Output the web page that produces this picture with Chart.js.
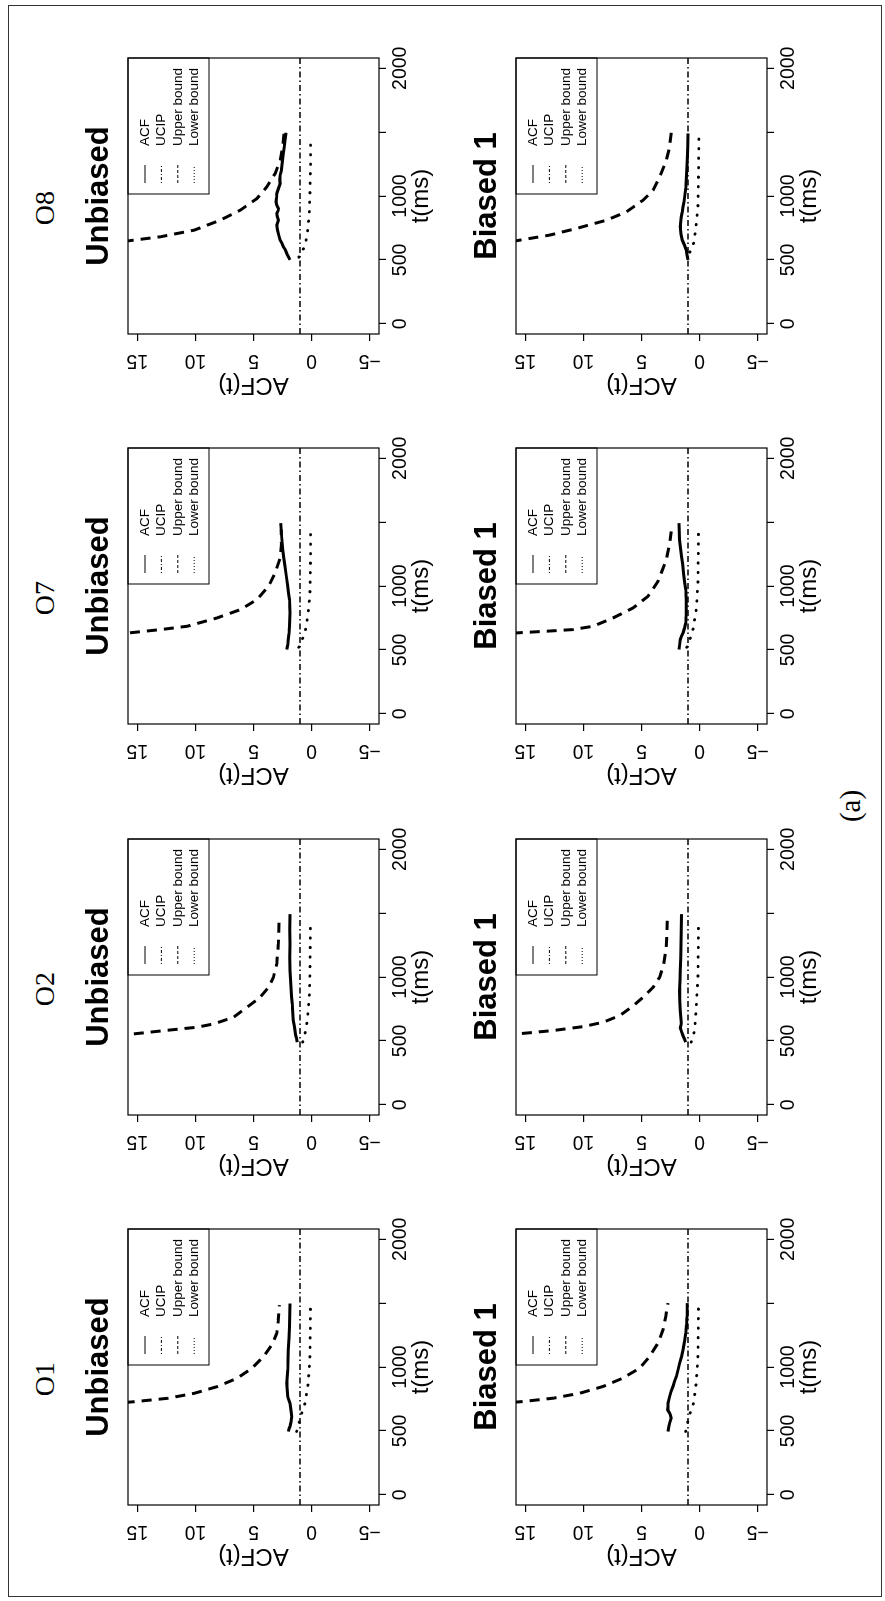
<!DOCTYPE html>
<html>
<head>
<meta charset="utf-8">
<script src="https://cdn.jsdelivr.net/npm/chart.js@4.4.1/dist/chart.umd.min.js"></script>
<style>
  html, body { margin: 0; padding: 0; background: #fff; overflow: hidden; }
  /* the figure is laid out upright (1601 x 885) and then turned a quarter to the left */
  #fig { position: absolute; left: 0; top: 0; width: 1601px; height: 885px;
         transform-origin: 0 0; transform: translate(0, 1601px) rotate(-90deg); background: #fff; }
  #frame { position: absolute; left: 4px; top: 8px; width: 1592px; height: 874px;
           box-sizing: border-box; border: 1.5px solid #333; }
  .olab { position: absolute; top: 31px; width: 100px; text-align: center; color: #000;
          font: 28px/28px "Liberation Serif", "Times New Roman", serif; }
  #cap { position: absolute; left: 745px; top: 836px; width: 100px; text-align: center; color: #000;
         font: 29px/29px "Liberation Serif", "Times New Roman", serif; }
  canvas { position: absolute; }
</style>
</head>
<body>
<div id="fig">
  <div id="frame"></div>
  <div id="cap">(a)</div>
</div>
<script>
// categories
const panels = ['O1', 'O2', 'O7', 'O8'];
const rows = ['Unbiased', 'Biased 1'];
const seriesNames = ['ACF', 'UCIP', 'Upper bound', 'Lower bound'];
const ucip = 1.0;

// axes
const xRange = [-80, 2080];
const yRange = [-5.8, 15.8];
const xTicks = [0, 500, 1000, 1500, 2000];
const xTickLabels = ['0', '500', '1000', '', '2000'];
const yTicks = [-5, 0, 5, 10, 15];
const yTickLabels = ['\u22125', '0', '5', '10', '15'];

// series values, [t (ms), ACF(t)]
// O1
const acfO1u = [[495,2.0],[515,1.95],[534,1.86],[570,1.78],[612,1.71],[660,1.78],[716,1.86],[768,2.06],[820,2.1],[872,2.14],[925,2.1],[977,2.06],[1055,2.03],[1133,2.0],[1225,1.95],[1315,1.91],[1410,1.88],[1497,1.86]];
const upO1u  = [[700,19],[729,15.2],[755,12.4],[794,10.1],[846,8.14],[911,6.43],[990,5.14],[1081,4.14],[1172,3.43],[1263,3.0],[1367,2.86],[1484,2.77]];
const loO1u  = [[495,1.29],[612,0.94],[716,0.57],[872,0.29],[1081,0.14],[1497,0.09]];
const acfO1b = [[495,2.72],[530,2.65],[561,2.58],[600,2.44],[620,2.5],[639,2.58],[665,2.75],[690,2.73],[717,2.72],[769,2.58],[810,2.45],[848,2.29],[890,2.15],[926,2.0],[980,1.85],[1030,1.72],[1080,1.56],[1134,1.43],[1200,1.3],[1265,1.2],[1330,1.13],[1395,1.09],[1500,1.06]];
const upO1b  = [[700,19],[730,15.2],[756,12.6],[795,10.3],[848,8.3],[913,6.6],[991,5.16],[1082,4.3],[1187,3.58],[1291,3.15],[1395,2.92],[1500,2.72]];
const loO1b  = [[495,1.2],[613,0.92],[717,0.52],[874,0.29],[1082,0.14],[1500,0.09]];
// O2
const acfO2u = [[490,1.23],[520,1.3],[550,1.38],[581,1.43],[620,1.5],[659,1.57],[720,1.62],[789,1.66],[850,1.72],[919,1.77],[985,1.82],[1049,1.86],[1150,1.87],[1258,1.86],[1370,1.87],[1492,1.86]];
const upO2u  = [[555,15.3],[586,12.1],[607,9.86],[633,8.43],[685,6.71],[763,5.57],[841,4.43],[919,3.71],[997,3.29],[1101,3.0],[1258,2.86],[1440,2.8]];
const loO2u  = [[490,0.77],[555,0.57],[659,0.37],[841,0.2],[1049,0.14],[1440,0.09]];
const acfO2b = [[490,1.2],[515,1.3],[542,1.43],[570,1.55],[602,1.66],[625,1.6],[646,1.58],[690,1.62],[737,1.66],[815,1.7],[893,1.72],[970,1.69],[1049,1.66],[1150,1.63],[1258,1.6],[1370,1.57],[1492,1.55]];
const upO2b  = [[558,15.3],[581,12.6],[612,10.0],[646,8.3],[698,6.88],[763,5.87],[841,4.87],[919,4.0],[997,3.44],[1101,3.09],[1232,2.87],[1440,2.78]];
const loO2b  = [[490,0.72],[581,0.43],[763,0.29],[997,0.14],[1440,0.09]];
// O7
const acfO7u = [[503,2.14],[540,2.05],[581,2.0],[630,1.95],[685,1.91],[740,1.88],[789,1.86],[840,1.88],[893,1.91],[945,1.98],[997,2.06],[1075,2.17],[1154,2.29],[1220,2.4],[1284,2.49],[1390,2.58],[1492,2.66]];
const upO7u  = [[600,20],[633,15.7],[659,13],[685,10.7],[750,8.14],[815,6.14],[893,4.71],[997,3.71],[1101,3.14],[1219,2.71],[1330,2.6],[1440,2.62]];
const loO7u  = [[520,1.1],[555,0.94],[633,0.57],[789,0.29],[945,0.14],[1206,0.09],[1440,0.09]];
const acfO7b = [[503,1.78],[540,1.72],[581,1.66],[610,1.55],[633,1.43],[670,1.3],[711,1.2],[760,1.17],[815,1.15],[893,1.15],[971,1.2],[1036,1.29],[1101,1.38],[1166,1.46],[1232,1.55],[1297,1.64],[1362,1.72],[1430,1.76],[1492,1.78]];
const upO7b  = [[620,19],[633,15.76],[646,13.2],[659,10.9],[685,9.17],[750,7.45],[828,5.73],[919,4.44],[1036,3.58],[1206,2.87],[1336,2.58],[1427,2.44]];
const loO7b  = [[520,1.1],[555,0.92],[659,0.57],[815,0.29],[1023,0.14],[1440,0.09]];
// O8
const acfO8u = [[500,1.86],[525,2.0],[551,2.14],[578,2.25],[603,2.43],[630,2.55],[655,2.71],[690,2.82],[733,2.94],[772,3.0],[811,2.86],[840,2.95],[863,3.0],[885,2.88],[902,2.86],[930,3.0],[954,3.06],[985,3.02],[1019,3.0],[1060,2.85],[1097,2.71],[1130,2.75],[1162,2.71],[1195,2.62],[1227,2.57],[1280,2.5],[1331,2.43],[1385,2.35],[1435,2.29],[1495,2.2]];
const upO8u  = [[600,22],[650,15.7],[681,13],[733,10.1],[811,7.86],[889,6.14],[980,4.71],[1071,3.86],[1175,3.14],[1279,2.71],[1383,2.49],[1495,2.37]];
const loO8u  = [[520,1.1],[551,1.0],[603,0.57],[707,0.37],[863,0.2],[1019,0.14],[1227,0.09],[1450,0.09]];
const acfO8b = [[500,1.0],[540,1.08],[577,1.15],[615,1.3],[655,1.49],[700,1.6],[759,1.66],[800,1.62],[837,1.58],[875,1.5],[915,1.43],[955,1.35],[993,1.29],[1060,1.2],[1123,1.15],[1200,1.1],[1279,1.06],[1380,1.03],[1490,1.0]];
const upO8b  = [[600,22],[650,15.76],[694,12.9],[746,10.6],[811,8.0],[876,6.3],[967,4.87],[1045,4.0],[1149,3.44],[1279,2.87],[1383,2.58],[1500,2.44]];
const loO8b  = [[560,0.85],[603,0.57],[733,0.34],[915,0.14],[1175,0.09],[1450,0.06]];

const table = {
  O1: [[acfO1u, upO1u, loO1u], [acfO1b, upO1b, loO1b]],
  O2: [[acfO2u, upO2u, loO2u], [acfO2b, upO2b, loO2b]],
  O7: [[acfO7u, upO7u, loO7u], [acfO7b, upO7b, loO7b]],
  O8: [[acfO8u, upO8u, loO8u], [acfO8b, upO8b, loO8b]]
};

const sans = '"Liberation Sans", Arial, Helvetica, sans-serif';
const legendDash = [[], [1, 2, 3, 2], [3, 2], [1, 2]];

// plot box, panel title and the little R style legend
const rFrame = {
  id: 'rFrame',
  afterDatasetsDraw(chart, args, opts) {
    const ctx = chart.ctx;
    const a = chart.chartArea;
    ctx.save();
    ctx.strokeStyle = '#000';
    ctx.lineWidth = 1.2;
    ctx.setLineDash([]);
    ctx.strokeRect(a.left, a.top, a.right - a.left, a.bottom - a.top);

    ctx.fillStyle = '#000';
    ctx.font = 'bold 31px ' + sans;
    ctx.textAlign = 'center';
    ctx.textBaseline = 'alphabetic';
    ctx.fillText(opts.text, (a.left + a.right) / 2, a.top - 20);

    const w = 136, h = 81;
    const lx = a.right - w, ly = a.top;
    ctx.lineWidth = 1;
    ctx.strokeRect(lx, ly, w, h);
    ctx.font = '13.5px ' + sans;
    ctx.textAlign = 'left';
    ctx.textBaseline = 'middle';
    chart.data.datasets.forEach((ds, i) => {
      const y = ly + 17 + i * 16.4;
      ctx.setLineDash(legendDash[i]);
      ctx.beginPath();
      ctx.moveTo(lx + 11, y);
      ctx.lineTo(lx + 29, y);
      ctx.stroke();
      ctx.setLineDash([]);
      ctx.fillText(ds.label, lx + 48, y);
    });
    ctx.restore();
  }
};

const toXY = arr => arr.map(p => ({ x: p[0], y: p[1] }));

const boxLeft = [96, 486, 877, 1267];
const boxTop = [128, 516];
const fig = document.getElementById('fig');

panels.forEach((name, c) => {
  const lab = document.createElement('div');
  lab.className = 'olab';
  lab.textContent = name;
  lab.style.left = (boxLeft[c] + 138 - 12 - 50) + 'px';
  fig.appendChild(lab);

  rows.forEach((rowTitle, r) => {
    const cv = document.createElement('canvas');
    cv.width = 392;
    cv.height = 371;
    cv.style.left = (boxLeft[c] - 96) + 'px';
    cv.style.top = (boxTop[r] - 60) + 'px';
    fig.appendChild(cv);

    const [acf, up, lo] = table[name][r];
    new Chart(cv, {
      type: 'line',
      data: {
        datasets: [
          { label: seriesNames[0], data: toXY(acf), borderColor: '#000', borderWidth: 3, clip: 0 },
          { label: seriesNames[1], data: toXY([[xRange[0], ucip], [xRange[1], ucip]]), borderColor: '#000',
            borderWidth: 1.5, borderDash: [6, 3, 1.5, 3], clip: 0 },
          { label: seriesNames[2], data: toXY(up), borderColor: '#000', borderWidth: 3, borderDash: [10, 7], clip: 0 },
          { label: seriesNames[3], data: toXY(lo), borderColor: '#000', borderWidth: 2.8, borderDash: [0.5, 9],
            borderCapStyle: 'round', clip: 0 }
        ]
      },
      options: {
        responsive: false,
        animation: false,
        devicePixelRatio: 1,
        layout: { padding: { top: 60, right: 20, left: 0, bottom: 0 } },
        elements: {
          point: { radius: 0 },
          line: { tension: 0, borderCapStyle: 'butt', fill: false }
        },
        plugins: {
          legend: { display: false },
          tooltip: { enabled: false },
          rFrame: { text: rowTitle }
        },
        scales: {
          x: {
            type: 'linear',
            min: xRange[0],
            max: xRange[1],
            afterBuildTicks: s => { s.ticks = xTicks.map(v => ({ value: v })); },
            afterFit: s => { s.height = 60; },
            border: { display: false },
            grid: { drawOnChartArea: false, drawTicks: true, tickLength: 7, color: '#000', lineWidth: 1.2 },
            ticks: {
              autoSkip: false, maxRotation: 0, padding: 3, color: '#000',
              font: { family: sans, size: 19.5 },
              callback: v => xTickLabels[xTicks.indexOf(v)]
            },
            title: { display: true, text: 't(ms)', color: '#000', font: { family: sans, size: 24 },
                     padding: { top: 0, bottom: 3.6 } }
          },
          y: {
            type: 'linear',
            min: yRange[0],
            max: yRange[1],
            afterBuildTicks: s => { s.ticks = yTicks.map(v => ({ value: v })); },
            afterFit: s => { s.width = 96; },
            border: { display: false },
            grid: { drawOnChartArea: false, drawTicks: true, tickLength: 7, color: '#000', lineWidth: 1.2 },
            ticks: {
              autoSkip: false, minRotation: 90, maxRotation: 90, crossAlign: 'center', padding: 8,
              color: '#000', font: { family: sans, size: 19.5 },
              callback: v => yTickLabels[yTicks.indexOf(v)]
            },
            title: { display: true, text: 'ACF(t)', color: '#000', font: { family: sans, size: 24 },
                     padding: { top: 30.6, bottom: 0 } }
          }
        }
      },
      plugins: [rFrame]
    });
  });
});
</script>
</body>
</html>
